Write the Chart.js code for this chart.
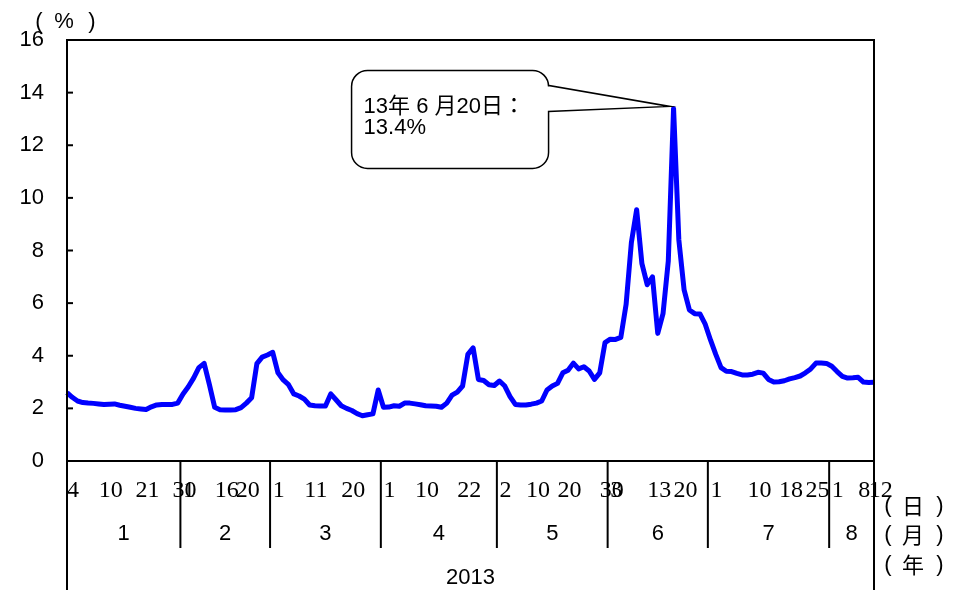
<!DOCTYPE html>
<html>
<head>
<meta charset="utf-8">
<script src="https://cdn.jsdelivr.net/npm/chart.js@4/dist/chart.umd.min.js"></script>
<style>
  html, body { margin: 0; padding: 0; background: #fff; }
</style>
</head>
<body>
<canvas id="myChart" width="970" height="592"></canvas>
<script>
// months shown under the axis and how many daily points each one holds
const monthNames = ['1', '2', '3', '4', '5', '6', '7', '8']
const monthDays = [22, 17, 21, 22, 21, 19, 23, 9]
const yearLabel = '2013'

// day labels and the point they sit on
const tickIndex = [0, 6, 13, 20, 22, 28, 32, 39, 45, 52, 60, 66, 74, 82, 87, 93, 101, 103, 110, 115, 122, 129, 135, 140, 145, 150, 152]
const tickText = ['4', '10', '21', '30', '1', '16', '20', '1', '11', '20', '1', '10', '22', '2', '10', '20', '30', '3', '13', '20', '1', '10', '18', '25', '1', '8', '12']

// overnight rate (%)
const rate = [
  2.6, 2.42, 2.28, 2.22, 2.2, 2.19, 2.17, 2.15, 2.16, 2.17, 2.12, 2.08, 2.04, 2.0, 1.98, 1.96, 2.06, 2.13, 2.15, 2.15, 2.15, 2.2,
  2.55, 2.82, 3.15, 3.55, 3.71, 2.9, 2.04, 1.95, 1.94, 1.94, 1.95, 2.03, 2.2, 2.4, 3.7, 3.95, 4.03,
  4.13, 3.35, 3.08, 2.9, 2.55, 2.47, 2.35, 2.13, 2.1, 2.09, 2.09, 2.55, 2.33, 2.1, 2.0, 1.92, 1.8, 1.72, 1.76, 1.79, 2.7,
  2.04, 2.05, 2.1, 2.08, 2.2, 2.2, 2.17, 2.14, 2.1, 2.09, 2.08, 2.04, 2.2, 2.5, 2.62, 2.85, 4.05, 4.3, 3.1, 3.06, 2.9, 2.87,
  3.04, 2.85, 2.45, 2.15, 2.13, 2.13, 2.16, 2.2, 2.28, 2.7, 2.85, 2.95, 3.35, 3.45, 3.72, 3.5, 3.58, 3.42, 3.1, 3.35, 4.5,
  4.63, 4.62, 4.7, 5.95, 8.3, 9.55, 7.5, 6.7, 7.0, 4.85, 5.6, 7.6, 13.4, 8.4, 6.5, 5.74, 5.6, 5.59, 5.2,
  4.6, 4.05, 3.55, 3.41, 3.4, 3.33, 3.27, 3.27, 3.3, 3.37, 3.34, 3.1, 3.0, 3.01, 3.05, 3.12, 3.17, 3.23, 3.35, 3.5, 3.72, 3.72, 3.71,
  3.6, 3.4, 3.22, 3.15, 3.16, 3.18, 3.0, 2.98, 2.99
]

const peakIndex = 115
const peakText = ['13年 6 月20日：', '13.4%']
const unitRight = ['日', '月', '年']

const sans = '"Liberation Sans", "Noto Sans CJK JP", sans-serif'
const cjk = '"Noto Sans CJK JP", sans-serif'

const categories = []
monthDays.forEach((n, m) => {
  for (let d = 0; d < n; d++) categories.push(monthNames[m] + '-' + d)
})

function line(ctx, x1, y1, x2, y2) {
  ctx.beginPath()
  ctx.moveTo(x1, y1)
  ctx.lineTo(x2, y2)
  ctx.stroke()
}

const decorations = {
  id: 'decorations',
  afterDraw(chart) {
    const ctx = chart.ctx
    const area = chart.chartArea
    const xs = chart.scales.x
    const ys = chart.scales.y
    ctx.save()
    ctx.strokeStyle = '#000'
    ctx.fillStyle = '#000'
    ctx.lineWidth = 2
    ctx.strokeRect(area.left, area.top, area.right - area.left, area.bottom - area.top)

    // small ticks inside the left axis
    ys.ticks.forEach((t) => {
      const py = ys.getPixelForValue(t.value)
      line(ctx, area.left, py, area.left + 6, py)
    })

    // month separators and labels
    ctx.font = '22px ' + sans
    ctx.textAlign = 'center'
    ctx.textBaseline = 'middle'
    let start = 0
    monthDays.forEach((n, m) => {
      const x0 = m === 0 ? area.left : xs.getPixelForValue(start - 0.5)
      const x1 = m === monthDays.length - 1 ? area.right : xs.getPixelForValue(start + n - 0.5)
      if (m > 0) line(ctx, x0, area.bottom, x0, area.bottom + 87)
      ctx.fillText(monthNames[m], (x0 + x1) / 2, area.bottom + 73)
      start += n
    })
    line(ctx, area.left, area.bottom, area.left, area.bottom + 129)
    line(ctx, area.right, area.bottom, area.right, area.bottom + 129)
    ctx.fillText(yearLabel, (area.left + area.right) / 2, area.bottom + 117)

    // unit labels
    const rows = [area.bottom + 45, area.bottom + 74, area.bottom + 104]
    unitRight.forEach((u, k) => {
      ctx.font = '22px ' + sans
      ctx.fillText('(', area.right + 14, rows[k])
      ctx.fillText(')', area.right + 66, rows[k])
      ctx.font = '22px ' + cjk
      ctx.fillText(u, area.right + 39, rows[k])
    })
    ctx.font = '22px ' + sans
    ctx.fillText('(', 39, 22)
    ctx.fillText('%', 64, 22)
    ctx.fillText(')', 92, 22)

    // callout for the peak
    const px = xs.getPixelForValue(peakIndex)
    const py = ys.getPixelForValue(rate[peakIndex])
    const tipX = px - 4
    const tipY = py - 2
    const bx = tipX - 318
    const by = tipY - 36
    const bw = 197
    const bh = 98
    const r = 16
    const p1 = tipY - 21
    const p2 = tipY + 5
    ctx.beginPath()
    ctx.moveTo(bx + r, by)
    ctx.lineTo(bx + bw - r, by)
    ctx.arcTo(bx + bw, by, bx + bw, by + r, r)
    ctx.lineTo(bx + bw, p1)
    ctx.lineTo(tipX, tipY)
    ctx.lineTo(bx + bw, p2)
    ctx.lineTo(bx + bw, by + bh - r)
    ctx.arcTo(bx + bw, by + bh, bx + bw - r, by + bh, r)
    ctx.lineTo(bx + r, by + bh)
    ctx.arcTo(bx, by + bh, bx, by + bh - r, r)
    ctx.lineTo(bx, by + r)
    ctx.arcTo(bx, by, bx + r, by, r)
    ctx.closePath()
    ctx.fillStyle = '#fff'
    ctx.fill()
    ctx.lineWidth = 1.5
    ctx.stroke()
    ctx.fillStyle = '#000'
    ctx.textAlign = 'left'
    ctx.font = '22px ' + sans
    ctx.fillText(peakText[0], bx + 12, by + 37)
    ctx.fillText(peakText[1], bx + 12, by + 58)
    ctx.restore()
  }
}

const ctx = document.getElementById('myChart')
const myChart = new Chart(ctx, {
  type: 'line',
  data: {
    labels: categories,
    datasets: [{
      data: rate,
      borderColor: '#0000ff',
      borderWidth: 5,
      pointRadius: 0,
      tension: 0,
      borderJoinStyle: 'round',
      fill: false
    }]
  },
  options: {
    responsive: false,
    animation: false,
    layout: { padding: { top: 40, right: 96, left: 0, bottom: 0 } },
    plugins: { legend: { display: false }, tooltip: { enabled: false } },
    scales: {
      x: {
        type: 'category',
        offset: false,
        grid: { display: false, drawTicks: false },
        border: { display: false },
        ticks: {
          autoSkip: false,
          maxRotation: 0,
          minRotation: 0,
          align: 'start',
          padding: 15,
          color: '#000',
          font: { family: '"Liberation Serif", serif', size: 24 },
          callback: (v, i) => {
            const k = tickIndex.indexOf(i)
            return k < 0 ? '' : tickText[k]
          }
        },
        afterFit: (s) => { s.height = 131 }
      },
      y: {
        min: 0,
        max: 16,
        grid: { display: false, drawTicks: false },
        border: { display: false },
        ticks: {
          stepSize: 2,
          padding: 23,
          color: '#000',
          font: { family: sans, size: 22 }
        },
        afterFit: (s) => { s.width = 67 }
      }
    }
  },
  plugins: [decorations]
})
</script>
</body>
</html>
